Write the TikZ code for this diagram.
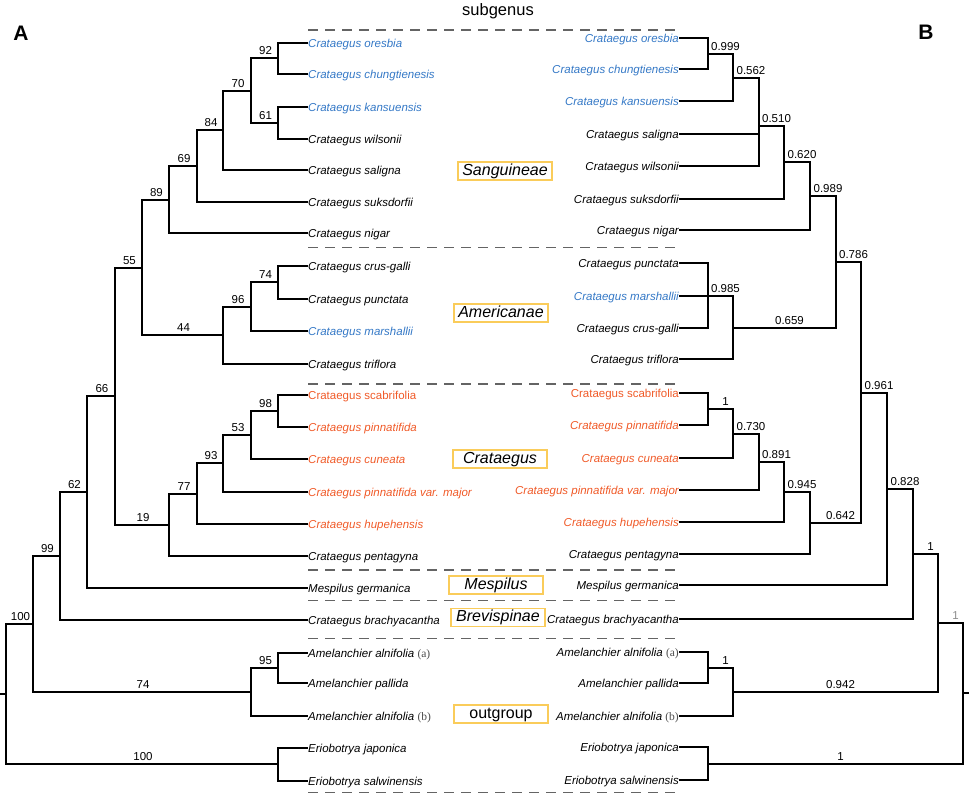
\documentclass[tikz,border=0pt]{standalone}
\usepackage{fontspec}
\setmainfont{Liberation Sans}
\newfontfamily\serifab{Liberation Serif}
\usetikzlibrary{calc}
\definecolor{cblue}{RGB}{52,120,198}
\definecolor{corange}{RGB}{240,90,40}
\definecolor{cgold}{RGB}{250,204,90}
\definecolor{cdash}{RGB}{100,100,100}
\definecolor{cgrey}{RGB}{140,140,140}
\newcommand\brlab[4][]{\node[#1] at ($(#2 |- #3)!0.5!(#3)$) {#4};}
\newcommand\ab[1]{{\serifab\upshape\color{black!70}(#1)}}
\begin{document}
\begin{tikzpicture}[x=1pt,y=-1pt,
  br/.style={line width=2pt, line cap=rect, black},
  lf/.style={font=\fontsize{11.5}{13}\selectfont\itshape, inner xsep=1pt, inner ysep=0pt, text height=8pt, text depth=0pt},
  lleaf/.style={lf, anchor=west},
  rleaf/.style={lf, anchor=east},
  upr/.style={font=\fontsize{11.5}{13}\selectfont\upshape},
  sup/.style={font=\fontsize{11.5}{13}\selectfont, anchor=south, inner sep=0pt, yshift=3pt},
  lsup/.style={sup, xshift=1pt},
  rsup/.style={sup, xshift=5pt},
  sbox/.style={draw=cgold, line width=1.3pt, minimum width=94pt, minimum height=18pt, inner sep=0pt, text height=11.5pt, text depth=3.5pt, font=\fontsize{16}{18}\selectfont\itshape},
  sep/.style={cdash, line width=1.3pt, dash pattern=on 10pt off 7pt},
  panel/.style={font=\fontsize{21}{24}\selectfont\bfseries, anchor=base, inner sep=0pt}
]
\useasboundingbox (0,0) rectangle (969,795);

% headings
\node[panel] (pA) at (21,40) {A};
\node[panel] (pB) at (926,39) {B};
\node[font=\fontsize{16.5}{18}\selectfont, anchor=base, inner sep=0pt] (sg) at (498,15) {subgenus};

% separators
\foreach \yy in {30,247.5,384,570,600.5,638.5,792.5}
  \draw[sep] (308,\yy) -- (682,\yy);

% subgenus boxes
\node[sbox] (bS) at (505,171) {Sanguineae};
\node[sbox] (bAm) at (501,313) {Americanae};
\node[sbox] (bC) at (500,459) {Crataegus};
\node[sbox] (bM) at (496,585) {Mespilus};
\node[sbox] (bB) at (498,617.5) {Brevispinae};
\node[sbox, font=\fontsize{16}{18}\selectfont\upshape] (bO) at (501,714) {outgroup};

% ---------------- left tree leaves ----------------
\node[lleaf, cblue] (l1) at (307,43) {Crataegus oresbia};
\node[lleaf, cblue] (l2) at (307,74) {Crataegus chungtienesis};
\node[lleaf, cblue] (l3) at (307,107) {Crataegus kansuensis};
\node[lleaf] (l4) at (307,139) {Crataegus wilsonii};
\node[lleaf] (l5) at (307,170) {Crataegus saligna};
\node[lleaf] (l6) at (307,202) {Crataegus suksdorfii};
\node[lleaf] (l7) at (307,233) {Crataegus nigar};
\node[lleaf] (l8) at (307,266) {Crataegus crus-galli};
\node[lleaf] (l9) at (307,299) {Crataegus punctata};
\node[lleaf, cblue] (l10) at (307,331) {Crataegus marshallii};
\node[lleaf] (l11) at (307,364) {Crataegus triflora};
\node[lleaf, corange, upr] (l12) at (307,395) {Crataegus scabrifolia};
\node[lleaf, corange] (l13) at (307,427) {Crataegus pinnatifida};
\node[lleaf, corange] (l14) at (307,459) {Crataegus cuneata};
\node[lleaf, corange] (l15) at (307,492) {Crataegus pinnatifida var. major};
\node[lleaf, corange] (l16) at (307,524) {Crataegus hupehensis};
\node[lleaf] (l17) at (307,556) {Crataegus pentagyna};
\node[lleaf] (l18) at (307,588) {Mespilus germanica};
\node[lleaf] (l19) at (307,620) {Crataegus brachyacantha};
\node[lleaf] (l20) at (307,653) {Amelanchier alnifolia \ab{a}};
\node[lleaf] (l21) at (307,683) {Amelanchier pallida};
\node[lleaf] (l22) at (307,716) {Amelanchier alnifolia \ab{b}};
\node[lleaf] (l23) at (307,748) {Eriobotrya japonica};
\node[lleaf] (l24) at (307,781) {Eriobotrya salwinensis};

% left internal nodes
\coordinate (n92) at (278,58);
\coordinate (n61) at (278,123);
\coordinate (n70) at (251,91);
\coordinate (n84) at (223,130);
\coordinate (n69) at (197,166);
\coordinate (n89) at (169,200);
\coordinate (n74) at (278,282);
\coordinate (n96) at (251,307);
\coordinate (n44) at (223,335);
\coordinate (n55) at (142,268);
\coordinate (n98) at (278,411);
\coordinate (n53) at (251,435);
\coordinate (n93) at (223,463);
\coordinate (n77) at (197,494);
\coordinate (n19) at (169,525);
\coordinate (n66) at (115,396);
\coordinate (n62) at (87,492);
\coordinate (n99) at (60,556);
\coordinate (n95) at (278,668);
\coordinate (nA) at (251,692);
\coordinate (n100) at (33,624);
\coordinate (nE) at (278,764);
\coordinate (lroot) at (6,694);
\coordinate (ltick) at (0,694);

% left edges
\draw[br] (n92) |- (l1.west) (n92) |- (l2.west);
\draw[br] (n61) |- (l3.west) (n61) |- (l4.west);
\draw[br] (n70) |- (n92) (n70) |- (n61);
\draw[br] (n84) |- (n70) (n84) |- (l5.west);
\draw[br] (n69) |- (n84) (n69) |- (l6.west);
\draw[br] (n89) |- (n69) (n89) |- (l7.west);
\draw[br] (n74) |- (l8.west) (n74) |- (l9.west);
\draw[br] (n96) |- (n74) (n96) |- (l10.west);
\draw[br] (n44) |- (n96) (n44) |- (l11.west);
\draw[br] (n55) |- (n89) (n55) |- (n44);
\draw[br] (n98) |- (l12.west) (n98) |- (l13.west);
\draw[br] (n53) |- (n98) (n53) |- (l14.west);
\draw[br] (n93) |- (n53) (n93) |- (l15.west);
\draw[br] (n77) |- (n93) (n77) |- (l16.west);
\draw[br] (n19) |- (n77) (n19) |- (l17.west);
\draw[br] (n66) |- (n55) (n66) |- (n19);
\draw[br] (n62) |- (n66) (n62) |- (l18.west);
\draw[br] (n99) |- (n62) (n99) |- (l19.west);
\draw[br] (n95) |- (l20.west) (n95) |- (l21.west);
\draw[br] (nA) |- (n95) (nA) |- (l22.west);
\draw[br] (n100) |- (n99) (n100) |- (nA);
\draw[br] (nE) |- (l23.west) (nE) |- (l24.west);
\draw[br] (lroot) |- (n100) (lroot) |- (nE);
\draw[br] (lroot) -- (ltick);

% left support values
\brlab[lsup]{n70}{n92}{92}
\brlab[lsup]{n70}{n61}{61}
\brlab[lsup]{n84}{n70}{70}
\brlab[lsup]{n69}{n84}{84}
\brlab[lsup]{n89}{n69}{69}
\brlab[lsup]{n55}{n89}{89}
\brlab[lsup]{n66}{n55}{55}
\brlab[lsup]{n96}{n74}{74}
\brlab[lsup]{n44}{n96}{96}
\brlab[lsup]{n55}{n44}{44}
\brlab[lsup]{n53}{n98}{98}
\brlab[lsup]{n93}{n53}{53}
\brlab[lsup]{n77}{n93}{93}
\brlab[lsup]{n19}{n77}{77}
\brlab[lsup]{n66}{n19}{19}
\brlab[lsup]{n62}{n66}{66}
\brlab[lsup]{n99}{n62}{62}
\brlab[lsup]{n100}{n99}{99}
\brlab[lsup]{nA}{n95}{95}
\brlab[lsup]{n100}{nA}{74}
\brlab[lsup]{lroot}{n100}{100}
\brlab[lsup]{lroot}{nE}{100}

% ---------------- right tree leaves ----------------
\node[rleaf, cblue] (r1) at (680,38) {Crataegus oresbia};
\node[rleaf, cblue] (r2) at (680,69) {Crataegus chungtienesis};
\node[rleaf, cblue] (r3) at (680,101) {Crataegus kansuensis};
\node[rleaf] (r4) at (680,134) {Crataegus saligna};
\node[rleaf] (r5) at (680,166) {Crataegus wilsonii};
\node[rleaf] (r6) at (680,199) {Crataegus suksdorfii};
\node[rleaf] (r7) at (680,230) {Crataegus nigar};
\node[rleaf] (r8) at (680,263) {Crataegus punctata};
\node[rleaf, cblue] (r9) at (680,296) {Crataegus marshallii};
\node[rleaf] (r10) at (680,328) {Crataegus crus-galli};
\node[rleaf] (r11) at (680,359) {Crataegus triflora};
\node[rleaf, corange, upr] (r12) at (680,393) {Crataegus scabrifolia};
\node[rleaf, corange] (r13) at (680,425) {Crataegus pinnatifida};
\node[rleaf, corange] (r14) at (680,458) {Crataegus cuneata};
\node[rleaf, corange] (r15) at (680,490) {Crataegus pinnatifida var. major};
\node[rleaf, corange] (r16) at (680,522) {Crataegus hupehensis};
\node[rleaf] (r17) at (680,554) {Crataegus pentagyna};
\node[rleaf] (r18) at (680,585) {Mespilus germanica};
\node[rleaf] (r19) at (680,619) {Crataegus brachyacantha};
\node[rleaf] (r20) at (680,652) {Amelanchier alnifolia \ab{a}};
\node[rleaf] (r21) at (680,683) {Amelanchier pallida};
\node[rleaf] (r22) at (680,716) {Amelanchier alnifolia \ab{b}};
\node[rleaf] (r23) at (680,747) {Eriobotrya japonica};
\node[rleaf] (r24) at (680,780) {Eriobotrya salwinensis};

% right internal nodes
\coordinate (a1) at (708,54);
\coordinate (a2) at (733,78);
\coordinate (a3) at (759,126);
\coordinate (a4) at (784,162);
\coordinate (a5) at (810,196);
\coordinate (a6) at (836,262);
\coordinate (b1) at (708,296);
\coordinate (b2) at (733,328);
\coordinate (c1) at (708,409);
\coordinate (c2) at (733,434);
\coordinate (c3) at (759,462);
\coordinate (c4) at (784,492);
\coordinate (c5) at (810,523);
\coordinate (a7) at (861,393);
\coordinate (d1) at (887,489);
\coordinate (d2) at (913,554);
\coordinate (e1) at (708,668);
\coordinate (e2) at (733,692);
\coordinate (d3) at (938,623);
\coordinate (f1) at (708,764);
\coordinate (rroot) at (963,693);
\coordinate (rtick) at (969,693);

% right edges
\draw[br] (a1) |- (r1.east) (a1) |- (r2.east);
\draw[br] (a2) |- (a1) (a2) |- (r3.east);
\draw[br] (a3) |- (a2) (a3) |- (r4.east) (a3) |- (r5.east);
\draw[br] (a4) |- (a3) (a4) |- (r6.east);
\draw[br] (a5) |- (a4) (a5) |- (r7.east);
\draw[br] (b1) |- (r8.east) (b1) |- (r10.east);
\draw[br] (b2) |- (b1) (b2) |- (r9.east) (b2) |- (r11.east);
\draw[br] (a6) |- (a5) (a6) |- (b2);
\draw[br] (c1) |- (r12.east) (c1) |- (r13.east);
\draw[br] (c2) |- (c1) (c2) |- (r14.east);
\draw[br] (c3) |- (c2) (c3) |- (r15.east);
\draw[br] (c4) |- (c3) (c4) |- (r16.east);
\draw[br] (c5) |- (c4) (c5) |- (r17.east);
\draw[br] (a7) |- (a6) (a7) |- (c5);
\draw[br] (d1) |- (a7) (d1) |- (r18.east);
\draw[br] (d2) |- (d1) (d2) |- (r19.east);
\draw[br] (e1) |- (r20.east) (e1) |- (r21.east);
\draw[br] (e2) |- (e1) (e2) |- (r22.east);
\draw[br] (d3) |- (d2) (d3) |- (e2);
\draw[br] (f1) |- (r23.east) (f1) |- (r24.east);
\draw[br] (rroot) |- (d3) (rroot) |- (f1);
\draw[br] (rroot) -- (rtick);

% right support values
\brlab[rsup]{a2}{a1}{0.999}
\brlab[rsup]{a3}{a2}{0.562}
\brlab[rsup]{a4}{a3}{0.510}
\brlab[rsup]{a5}{a4}{0.620}
\brlab[rsup]{a6}{a5}{0.989}
\brlab[rsup]{a7}{a6}{0.786}
\brlab[rsup]{b2}{b1}{0.985}
\brlab[rsup]{a6}{b2}{0.659}
\brlab[rsup]{c2}{c1}{1}
\brlab[rsup]{c3}{c2}{0.730}
\brlab[rsup]{c4}{c3}{0.891}
\brlab[rsup]{c5}{c4}{0.945}
\brlab[rsup]{a7}{c5}{0.642}
\brlab[rsup]{d1}{a7}{0.961}
\brlab[rsup]{d2}{d1}{0.828}
\brlab[rsup]{d3}{d2}{1}
\brlab[rsup, cgrey]{rroot}{d3}{1}
\brlab[rsup]{e2}{e1}{1}
\brlab[rsup]{d3}{e2}{0.942}
\brlab[rsup]{rroot}{f1}{1}
\end{tikzpicture}
\end{document}
